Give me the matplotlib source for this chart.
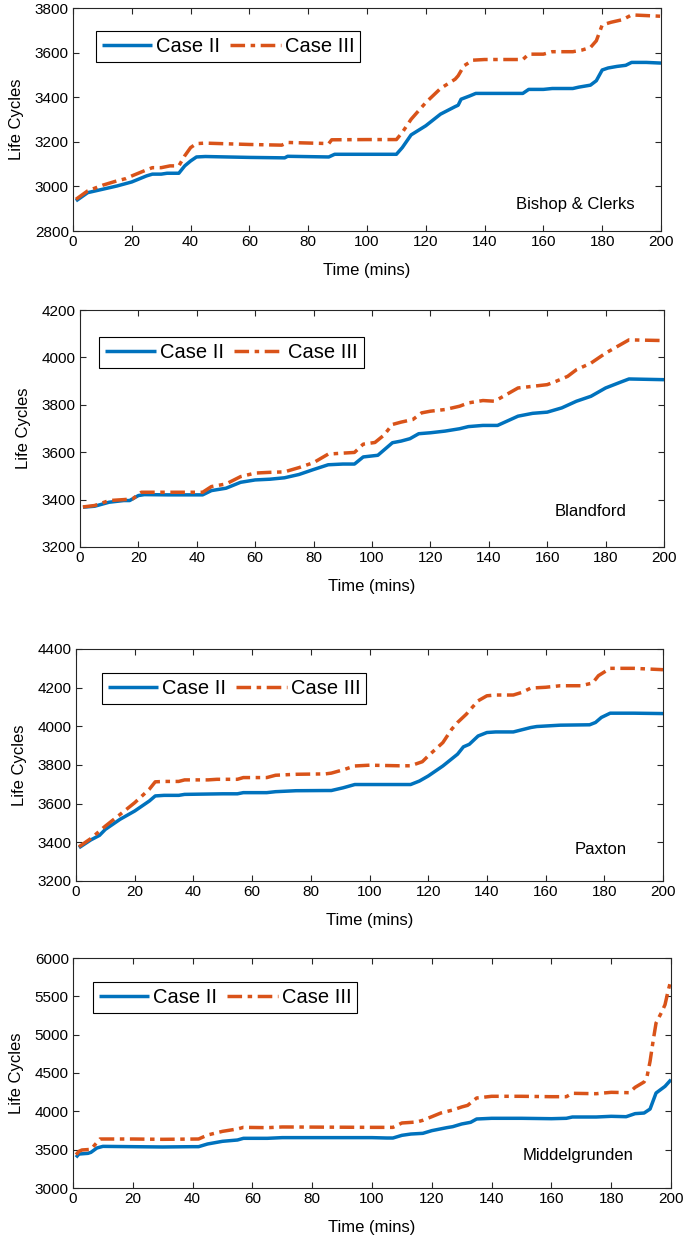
import matplotlib
matplotlib.use("Agg")
import matplotlib.pyplot as plt

plt.rcParams['font.family'] = ['Liberation Sans', 'DejaVu Sans']

# ---- Bishop & Clerks ----
bc_t2 = [1, 5, 10, 15, 20, 25, 27, 30, 32, 36, 38, 40, 42, 45, 60, 72, 73, 87, 89, 100, 110, 112, 115, 120, 125, 130, 131, 132, 135, 137, 150, 153, 155, 160, 163, 170, 172, 176, 178, 180, 182, 185, 188, 190, 195, 200]
bc_case2 = [2935, 2972, 2987, 3002, 3020, 3047, 3055, 3055, 3059, 3059, 3092, 3114, 3132, 3134, 3130, 3128, 3135, 3132, 3144, 3144, 3144, 3174, 3231, 3272, 3324, 3358, 3364, 3391, 3406, 3417, 3417, 3417, 3435, 3435, 3439, 3439, 3445, 3454, 3474, 3522, 3531, 3538, 3543, 3556, 3556, 3553]
bc_t3 = [1, 5, 10, 15, 18, 20, 25, 27, 30, 33, 36, 38, 40, 42, 45, 60, 71, 73, 87, 88, 100, 110, 112, 115, 120, 125, 130, 131, 133, 136, 140, 153, 155, 160, 163, 170, 173, 176, 178, 180, 183, 187, 190, 195, 200]
bc_case3 = [2942, 2980, 3005, 3025, 3035, 3047, 3074, 3084, 3084, 3092, 3092, 3137, 3174, 3192, 3194, 3188, 3185, 3197, 3192, 3209, 3210, 3210, 3242, 3301, 3376, 3439, 3481, 3496, 3541, 3566, 3569, 3569, 3593, 3593, 3604, 3604, 3611, 3623, 3653, 3724, 3736, 3748, 3769, 3766, 3763]

# ---- Blandford ----
bl_t2 = [1, 5, 10, 15, 17, 20, 22, 30, 40, 42, 45, 50, 55, 60, 65, 70, 75, 80, 85, 90, 94, 97, 102, 107, 110, 113, 116, 120, 125, 130, 133, 138, 143, 150, 155, 160, 165, 170, 175, 180, 185, 188, 200]
bl_case2 = [3368, 3372, 3389, 3396, 3396, 3417, 3421, 3420, 3420, 3420, 3438, 3448, 3473, 3483, 3486, 3492, 3506, 3527, 3547, 3550, 3550, 3580, 3587, 3640, 3647, 3657, 3678, 3682, 3689, 3699, 3708, 3713, 3713, 3752, 3764, 3769, 3787, 3815, 3836, 3871, 3895, 3909, 3906]
bl_t3 = [1, 5, 10, 15, 18, 21, 30, 40, 42, 45, 50, 55, 60, 65, 70, 75, 80, 85, 90, 94, 97, 101, 104, 107, 110, 114, 117, 120, 125, 130, 133, 138, 142, 145, 150, 155, 160, 163, 167, 170, 175, 180, 185, 188, 200]
bl_case3 = [3369, 3375, 3396, 3400, 3403, 3431, 3431, 3431, 3431, 3455, 3466, 3497, 3512, 3515, 3517, 3535, 3556, 3592, 3596, 3599, 3634, 3641, 3671, 3717, 3727, 3738, 3766, 3773, 3780, 3794, 3808, 3818, 3815, 3836, 3871, 3878, 3885, 3899, 3920, 3948, 3976, 4018, 4053, 4074, 4071]

# ---- Paxton ----
px_t2 = [1, 5, 8, 10, 15, 20, 25, 27, 30, 35, 37, 50, 55, 57, 65, 68, 75, 85, 87, 91, 95, 100, 110, 114, 117, 120, 125, 130, 132, 134, 137, 140, 143, 149, 155, 157, 165, 175, 177, 179, 182, 190, 200]
px_case2 = [3372, 3412, 3436, 3467, 3519, 3562, 3614, 3640, 3643, 3643, 3648, 3651, 3651, 3657, 3657, 3662, 3667, 3668, 3668, 3682, 3699, 3699, 3699, 3699, 3717, 3743, 3795, 3856, 3894, 3907, 3950, 3968, 3971, 3971, 3994, 3999, 4006, 4008, 4020, 4046, 4068, 4068, 4066]
px_t3 = [1, 5, 10, 15, 20, 25, 27, 30, 35, 37, 45, 48, 55, 57, 65, 68, 75, 85, 87, 91, 95, 100, 110, 114, 118, 120, 125, 128, 130, 133, 135, 137, 140, 143, 149, 152, 155, 160, 165, 172, 176, 178, 182, 190, 200]
px_case3 = [3377, 3419, 3484, 3544, 3605, 3675, 3713, 3715, 3715, 3723, 3723, 3726, 3726, 3735, 3735, 3747, 3752, 3754, 3758, 3775, 3795, 3799, 3796, 3796, 3817, 3847, 3916, 3985, 4020, 4063, 4098, 4132, 4158, 4162, 4162, 4176, 4198, 4202, 4210, 4210, 4224, 4262, 4300, 4300, 4293]

# ---- Middelgrunden ----
mg_t2 = [1, 2, 5, 6, 8, 10, 20, 30, 40, 42, 45, 50, 55, 57, 65, 70, 100, 105, 107, 110, 113, 117, 120, 125, 127, 130, 133, 135, 140, 150, 160, 165, 167, 175, 180, 185, 188, 191, 193, 195, 198, 200]
mg_case2 = [3400, 3443, 3452, 3465, 3522, 3543, 3539, 3535, 3539, 3539, 3574, 3609, 3626, 3648, 3648, 3657, 3657, 3652, 3652, 3687, 3704, 3713, 3748, 3787, 3800, 3835, 3857, 3900, 3909, 3909, 3904, 3909, 3926, 3926, 3935, 3930, 3970, 3978, 4030, 4239, 4326, 4413]
mg_t3 = [1, 2, 3, 6, 9, 20, 30, 42, 45, 50, 55, 57, 65, 70, 100, 107, 110, 115, 117, 120, 123, 127, 130, 132, 135, 140, 150, 160, 165, 167, 175, 180, 186, 188, 191, 192, 193, 194, 195, 197, 198, 199, 200]
mg_case3 = [3435, 3478, 3496, 3504, 3639, 3639, 3635, 3639, 3691, 3739, 3770, 3791, 3787, 3796, 3791, 3791, 3848, 3861, 3883, 3930, 3978, 4017, 4057, 4078, 4174, 4196, 4196, 4191, 4191, 4235, 4230, 4248, 4243, 4313, 4383, 4457, 4652, 4913, 5152, 5304, 5391, 5565, 5717]

site_names = ["Bishop & Clerks", "Blandford", "Paxton", "Middelgrunden"]
series_labels = ["Case II", "Case III"]
x_ticks = [0, 20, 40, 60, 80, 100, 120, 140, 160, 180, 200]
y_ticks = [
    [2800, 3000, 3200, 3400, 3600, 3800],
    [3200, 3400, 3600, 3800, 4000, 4200],
    [3200, 3400, 3600, 3800, 4000, 4200, 4400],
    [3000, 3500, 4000, 4500, 5000, 5500, 6000],
]

W, H = 683, 1240
fig = plt.figure(figsize=(W / 100, H / 100), dpi=100)

# pixel boxes: left, right, top, bottom
boxes = [(73, 661, 8, 231), (80, 664, 310, 547), (76, 663, 649, 881), (73, 671, 958, 1188)]
legend_anchor = [(0.039, 0.897), (0.033, 0.886), (0.044, 0.897), (0.033, 0.896)]
name_pos = [(0.955, 0.12), (0.935, 0.148), (0.939, 0.134), (0.938, 0.143)]

data = [
    (bc_t2, bc_case2, bc_t3, bc_case3),
    (bl_t2, bl_case2, bl_t3, bl_case3),
    (px_t2, px_case2, px_t3, px_case3),
    (mg_t2, mg_case2, mg_t3, mg_case3),
]

blue = '#0072BD'
orange = '#D95319'

for i, (l, r, t, b) in enumerate(boxes):
    ax = fig.add_axes([l / W, 1 - b / H, (r - l) / W, (b - t) / H])
    t2, c2, t3, c3 = data[i]
    ax.plot(t2, c2, color=blue, lw=2.5, label=series_labels[0], solid_capstyle='butt')
    ax.plot(t3, c3, color=orange, lw=2.5, label=series_labels[1],
            linestyle=(0, (4.2, 1.6, 1.3, 1.6)))
    ax.set_xlim(0, 200)
    ax.set_ylim(y_ticks[i][0], y_ticks[i][-1])
    ax.set_xticks(x_ticks)
    ax.set_yticks(y_ticks[i])
    ax.tick_params(direction='in', length=4, width=0.8, top=True, right=True,
                   labelsize=11, pad=3, colors='#262626', labelcolor='black')
    for sp in ax.spines.values():
        sp.set_linewidth(0.8)
        sp.set_color('#262626')
    ax.set_xlabel("Time (mins)", fontsize=12, labelpad=10)
    ax.set_ylabel("Life Cycles", fontsize=12, labelpad=8)
    ax.text(name_pos[i][0], name_pos[i][1], site_names[i], transform=ax.transAxes,
            ha='right', va='center', fontsize=12)
    leg = ax.legend(loc='upper left', bbox_to_anchor=legend_anchor[i], borderaxespad=0,
                    ncol=2, fontsize=14.5, handlelength=2.5, handletextpad=0.2,
                    columnspacing=0.5, fancybox=False, framealpha=1,
                    edgecolor='black', borderpad=0.3)
    leg.get_frame().set_linewidth(0.8)

fig.savefig("out.png", dpi=100)
